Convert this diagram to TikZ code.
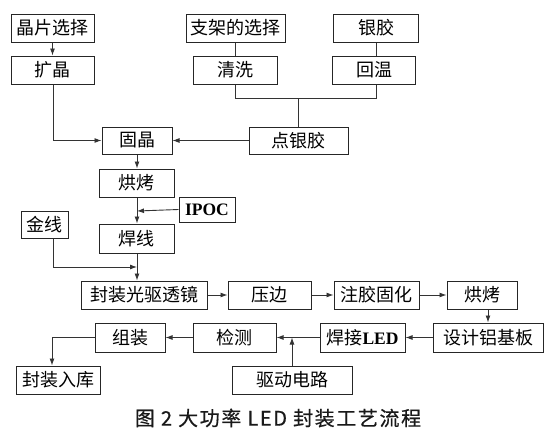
\documentclass[tikz,border=0pt]{standalone}
\usepackage{fontspec}
\setmainfont{Liberation Serif}
\newfontfamily\cjk{Noto Sans CJK SC}
\newfontfamily\capfont[LetterSpace=8,FakeBold=0.6]{Noto Sans CJK SC}
\usetikzlibrary{arrows.meta}
\begin{document}
\begin{tikzpicture}[x=1pt,y=-1pt,
  box/.style={draw=black!85,line width=1pt,minimum height=28pt,inner sep=0pt,
    font=\cjk\fontsize{18}{20}\selectfont,fill=white},
  ln/.style={draw=black!80,line width=0.9pt},
  ar/.style={ln,-{Latex[length=7pt,width=5pt]}}]
\useasboundingbox (0,0) rectangle (552,439);
% top row
\node[box,minimum width=83pt] (jp) at (52.5,28) {晶片选择};
\node[box,minimum width=83pt] (kj) at (52.5,70) {扩晶};
\node[box,minimum width=99pt] (zj) at (235.5,28) {支架的选择};
\node[box,minimum width=84pt] (qx) at (235,70) {清洗};
\node[box,minimum width=85pt] (yj) at (376,28) {银胶};
\node[box,minimum width=83pt] (hw) at (374,70) {回温};
\node[box,minimum width=99pt,minimum height=27pt] (ddj) at (298.5,140.5) {点银胶};
\node[box,minimum width=70pt,minimum height=27pt] (gj) at (137,140.5) {固晶};
\node[box,minimum width=75pt] (hk1) at (136.5,183) {烘烤};
\node[box,minimum width=56pt,minimum height=25pt,font=\bfseries\fontsize{17.5}{18}\selectfont] (ipoc) at (207,209.5) {IPOC};
\node[box,minimum width=75pt,minimum height=29pt] (hx) at (136.5,238.5) {焊线};
\node[box,minimum width=47pt,minimum height=27pt] (jx) at (44.5,224.5) {金线};
\node[box,minimum width=126pt] (fz) at (144,295) {封装光驱透镜};
\node[box,minimum width=83pt] (yb) at (269.5,295) {压边};
\node[box,minimum width=85pt] (zjgh) at (376.5,295) {注胶固化};
\node[box,minimum width=70pt] (hk2) at (482,295) {烘烤};
\node[box,minimum width=110pt,minimum height=29pt] (sj) at (488,337.5) {设计铝基板};
\node[box,minimum width=85pt,minimum height=29pt] (hj) at (362.5,337.5) {焊接{\rmfamily\bfseries\fontsize{17.5}{18}\selectfont LED}};
\node[box,minimum width=83pt,minimum height=29pt] (jc) at (234.5,337.5) {检测};
\node[box,minimum width=70pt,minimum height=29pt] (zz) at (130,337.5) {组装};
\node[box,minimum width=84pt] (rk) at (58,380) {封装入库};
\node[box,minimum width=120pt] (qd) at (292,380) {驱动电路};
% caption
\node[font=\capfont\fontsize{20}{22}\selectfont,text=black!90,inner sep=0pt] (cap) at (278,418) {图 2 大功率 LED 封装工艺流程};
% coordinates
\coordinate (c1) at (235,98);
\coordinate (c2) at (376,98);
\coordinate (c3) at (298.5,98);
\coordinate (c4) at (53,140.5);
\coordinate (c5) at (137,211);
\coordinate (c6) at (53,267);
\coordinate (c7) at (137,267);
\coordinate (c8) at (292,337.5);
\coordinate (c9) at (52,337.5);
\coordinate (c10) at (488,309);
% connectors
\draw[ar] (jp) -- (kj);
\draw[ln] (zj.south -| c1) -- (qx.north -| c1);
\draw[ln] (yj.south -| c2) -- (hw.north -| c2);
\draw[ln] (qx.south -| c1) -- (c1) -- (c2) -- (hw.south -| c2);
\draw[ln] (c3) -- (ddj.north);
\draw[ar] (kj.south -| c4) -- (c4) -- (gj.west);
\draw[ar] (ddj.west) -- (gj.east);
\draw[ar] (gj.south -| c5) -- (hk1.north -| c5);
\draw[ar] (hk1.south -| c5) -- (hx.north -| c5);
\draw[ar] (ipoc.west) -- (c5);
\draw[ar] (jx.south -| c6) -- (c6) -- (c7);
\draw[ar] (hx.south -| c7) -- (fz.north -| c7);
\draw[ar] (fz) -- (yb);
\draw[ar] (yb) -- (zjgh);
\draw[ar] (zjgh) -- (hk2);
\draw[ar] (hk2.south -| c10) -- (sj.north -| c10);
\draw[ar] (sj) -- (hj);
\draw[ar] (hj) -- (jc);
\draw[ar] (qd.north -| c8) -- (c8);
\draw[ar] (jc) -- (zz);
\draw[ar] (zz.west) -- (c9) -- (rk.north -| c9);
\end{tikzpicture}
\end{document}
